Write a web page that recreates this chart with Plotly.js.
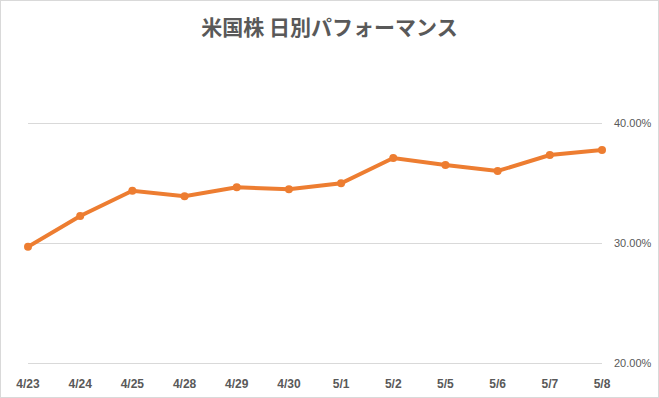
<!DOCTYPE html>
<html>
<head>
<meta charset="utf-8">
<script src="https://cdn.plot.ly/plotly-3.0.1.min.js"></script>
<style>
  html, body { margin: 0; padding: 0; background: #fff; }
  #chart { width: 659px; height: 398px; box-sizing: border-box; border: 1px solid #d9d9d9; }
</style>
</head>
<body>
<div id="chart"></div>
<script>
const categories = ["4/23", "4/24", "4/25", "4/28", "4/29", "4/30", "5/1", "5/2", "5/5", "5/6", "5/7", "5/8"];
const performance = [0.2969, 0.3225, 0.3436, 0.3389, 0.3464, 0.3447, 0.3497, 0.3708, 0.3650, 0.3600, 0.3733, 0.3775];
const yTickValues = [0.2, 0.3, 0.4];
const titleText = "米国株 日別パフォーマンス";

const trace = {
  x: categories,
  y: performance,
  type: "scatter",
  mode: "lines+markers",
  line: { color: "#ED7D31", width: 4 },
  marker: { color: "#ED7D31", size: 8 },
  cliponaxis: false,
  hoverinfo: "skip"
};

const layout = {
  width: 657,
  height: 396,
  margin: { l: 27, r: 56, t: 119, b: 31 },
  paper_bgcolor: "#ffffff",
  plot_bgcolor: "#ffffff",
  showlegend: false,
  title: {
    text: titleText,
    x: 0.5,
    xanchor: "center",
    y: 1 - 27 / 396,
    yanchor: "middle",
    font: { family: "Noto Sans CJK JP, sans-serif", size: 21, color: "#595959", weight: "bold" }
  },
  xaxis: {
    type: "category",
    range: [0, categories.length - 1],
    showgrid: false,
    zeroline: false,
    showline: false,
    ticks: "",
    ticklabelstandoff: 9,
    tickfont: { family: "Liberation Sans, Arial, sans-serif", size: 12, color: "#595959", weight: "bold" }
  },
  yaxis: {
    side: "right",
    range: [0.1975, 0.4025],
    tickvals: yTickValues,
    tickformat: ".2%",
    showgrid: true,
    gridcolor: "#d9d9d9",
    gridwidth: 1,
    zeroline: false,
    showline: false,
    ticks: "",
    ticklabelstandoff: 11,
    tickfont: { family: "Liberation Sans, Arial, sans-serif", size: 11, color: "#595959" }
  }
};

Plotly.newPlot("chart", [trace], layout, { displayModeBar: false, staticPlot: true });
</script>
</body>
</html>
